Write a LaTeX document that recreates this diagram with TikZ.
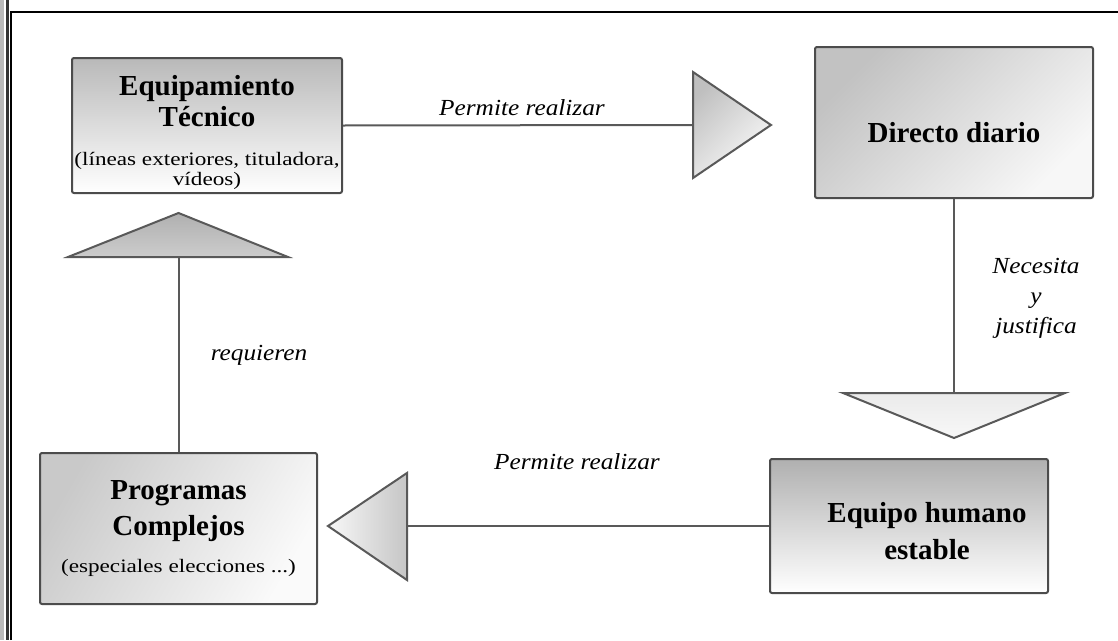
\documentclass[tikz,border=0pt]{standalone}
\usepackage{fontspec}
\setmainfont{Liberation Serif}
\newfontfamily\widesub[FakeStretch=1.22]{Liberation Serif}
\newfontfamily\wideit[FakeStretch=1.1]{Liberation Serif}
\newcommand\subtxt[1]{{\widesub\mdseries\fontsize{19}{19}\selectfont #1}}
\begin{document}
\begin{tikzpicture}[x=1pt,y=-1pt,
  box/.style={draw=black!70,line width=2pt,rounded corners=2pt,inner sep=0pt,align=center,
    font=\fontsize{29}{31}\selectfont\bfseries},
  tri/.style={draw=black!65,line width=2pt,line join=miter},
  link/.style={draw=black!65,line width=2pt},
  lbl/.style={font=\wideit\itshape\fontsize{23}{30}\selectfont,align=center}]
\useasboundingbox (0,0) rectangle (1118,640);
\fill[white] (0,0) rectangle (1118,640);
\fill[gray!55] (0,0) rectangle (4,640);
\fill[black!80] (6,0) rectangle (9,640);
\draw[line width=2.5pt] (11,640) -- (11,12) -- (1118,12);

\node (equip) at (207,125.5) [box,minimum width=270,minimum height=135,top color=gray!55,bottom color=white]
  {\rule{0pt}{34pt}Equipamiento\\Técnico\\[8pt]\subtxt{(líneas exteriores, tituladora,}\\[-11pt]\subtxt{vídeos)}};
\node (directo) at (954,122.5) [box,minimum width=278,minimum height=151,top color=gray!48,bottom color=gray!6,shading angle=45]
  {\rule{0pt}{40pt}Directo diario};
\node (humano) at (909,526) [box,minimum width=278,minimum height=134,top color=gray!62,bottom color=white]
  {\rule{0pt}{30pt}\hspace*{36pt}Equipo humano\\[6pt]\hspace*{36pt}estable};
\node (prog) at (178.5,528.5) [box,minimum width=277,minimum height=151,top color=gray!42,bottom color=gray!4,shading angle=60]
  {Programas\\[5pt]Complejos\\[6pt]\subtxt{(especiales elecciones ...)}};

\coordinate (t1) at (693,125);
\coordinate (t2) at (954,393);
\coordinate (t3) at (407,526);
\coordinate (t4) at (178.5,257);

\draw[tri,top color=gray!50,bottom color=gray!4,shading angle=45] (693,72) -- (693,178) -- (771,125) -- cycle;
\draw[tri,top color=gray!16,bottom color=gray!6] (843,393) -- (1065,393) -- (954,438) -- cycle;
\draw[tri,left color=gray!6,right color=gray!45] (407,473) -- (407,580) -- (328,526) -- cycle;
\draw[tri,top color=gray!62,bottom color=gray!40] (68,257) -- (288,257) -- (178.5,213) -- cycle;

\draw[link] (equip.east) -- (t1);
\draw[link] (directo.south) -- (t2);
\draw[link] (humano.west) -- (t3);
\draw[link] (prog.north) -- (t4);

\node (l1) at (522,108) [lbl] {Permite realizar};
\node (l2) at (1036,298) [lbl] {Necesita\\y\\justifica};
\node (l3) at (577,462) [lbl] {Permite realizar};
\node (l4) at (259,355) [lbl] {requieren};
\end{tikzpicture}
\end{document}
